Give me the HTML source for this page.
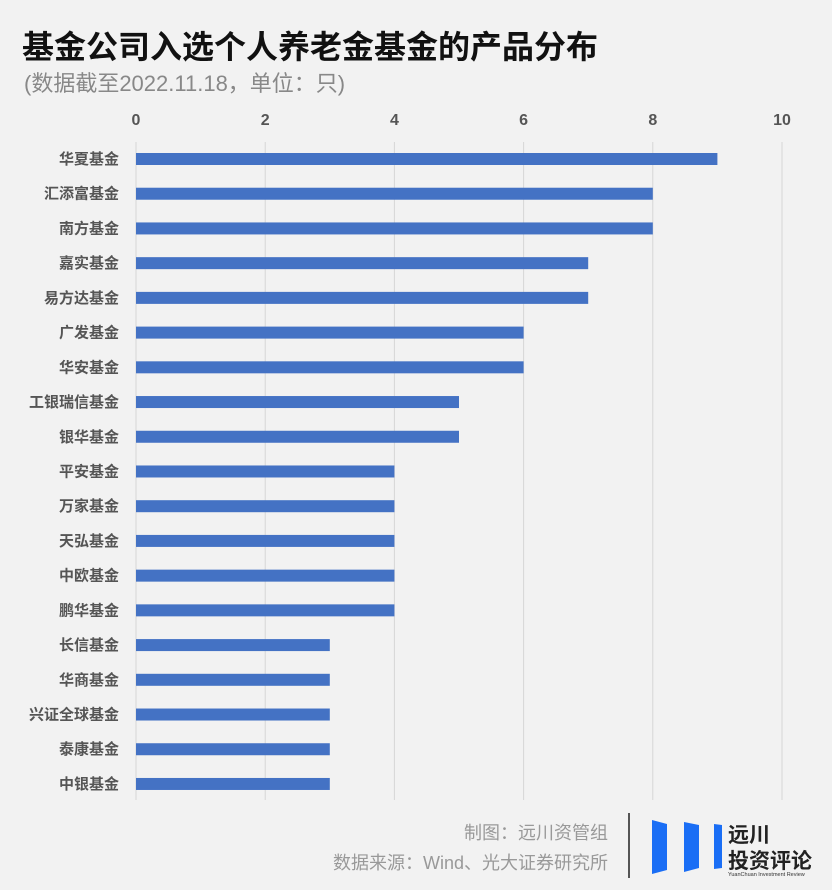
<!DOCTYPE html>
<html><head><meta charset="utf-8"><style>
body{margin:0;background:#f2f2f2;width:832px;height:890px;overflow:hidden;font-family:"Liberation Sans","Noto Sans CJK SC",sans-serif;position:relative}
.t{position:absolute;white-space:nowrap}
</style></head><body>
<div class="t" style="left:22px;top:22px;font-size:32px;font-weight:bold;color:#111">基金公司入选个人养老金基金的产品分布</div>
<div class="t" style="left:24px;top:66px;font-size:22px;color:#888">(数据截至2022.11.18，单位：只)</div>
<svg id="chart" width="832" height="810" style="position:absolute;left:0;top:0"></svg>
<div class="t" style="right:224px;top:819px;font-size:18px;color:#999">制图：远川资管组</div>
<div class="t" style="right:224px;top:849px;font-size:18px;color:#999">数据来源：Wind、光大证券研究所</div>
<div style="position:absolute;left:628px;top:813px;width:2px;height:65px;background:#555"></div>
<svg width="200" height="80" style="position:absolute;left:640px;top:810px">
<polygon points="12,10 27,14 27,60 12,64" fill="#1a6ef5"/>
<polygon points="44,12 59,15 59,58 44,62" fill="#1a6ef5"/>
<polygon points="74,14 82,15 82,58 74,59" fill="#1a6ef5"/>
<text x="88" y="32" font-size="21" font-weight="bold" fill="#222" font-family="Liberation Sans,Noto Sans CJK SC,sans-serif">远川</text>
<text x="88" y="58" font-size="21" font-weight="bold" fill="#222" font-family="Liberation Sans,Noto Sans CJK SC,sans-serif">投资评论</text>
<text x="88" y="66" font-size="5.5" fill="#333" font-family="Liberation Sans,sans-serif">YuanChuan Investment Review</text>
</svg>
<script>
const categories=["华夏基金","汇添富基金","南方基金","嘉实基金","易方达基金","广发基金","华安基金","工银瑞信基金","银华基金","平安基金","万家基金","天弘基金","中欧基金","鹏华基金","长信基金","华商基金","兴证全球基金","泰康基金","中银基金"];
const values=[9,8,8,7,7,6,6,5,5,4,4,4,4,4,3,3,3,3,3];
const ticks=[0,2,4,6,8,10];
const NS="http://www.w3.org/2000/svg";
const svg=document.getElementById('chart');
const x=v=>136+v*64.6;
const y=i=>159+i*34.72;
function mk(t,a){const e=document.createElementNS(NS,t);for(const k in a)e.setAttribute(k,a[k]);svg.appendChild(e);return e;}
ticks.forEach(t=>{
 const g=mk('line',{x1:x(t),x2:x(t),y1:142,y2:800,stroke:'#d6d6d6','stroke-width':1});
 
 
 const l=mk('text',{x:x(t),y:125,'text-anchor':'middle','font-size':16,'font-weight':'bold',fill:'#555'});
 l.textContent=t;
 
 
});
categories.forEach((c,i)=>{
 const b=mk('rect',{x:x(0),y:y(i)-6,width:x(values[i])-x(0),height:12,fill:'#4472c4'});
 
 
 const l=mk('text',{x:119,y:y(i)+5,'text-anchor':'end','font-size':15,'font-weight':'bold',fill:'#555'});
 l.textContent=c;
 
 
});
</script>
</body></html>
